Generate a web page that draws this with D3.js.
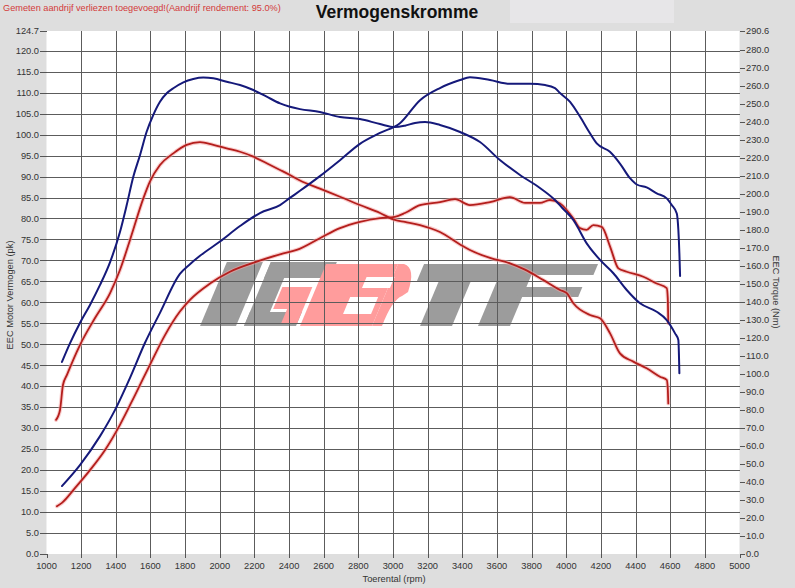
<!DOCTYPE html>
<html><head><meta charset="utf-8">
<script src="https://cdn.jsdelivr.net/npm/d3@7"></script>
<style>body{margin:0;background:#dedede}svg{display:block}</style>
</head><body><svg id="c" width="795" height="588"></svg>
<script>
// ---- data ----
const rpmTicks = d3.range(1000, 5001, 200);
const pkTicks = [...d3.range(0, 121, 5), 124.7];
const nmTicks = [...d3.range(0, 281, 10), 290.6];
const titleText = "Vermogenskromme";
const noteText = "Gemeten aandrijf verliezen toegevoegd!(Aandrijf rendement: 95.0%)";
const xTitle = "Toerental (rpm)";
const yLeftTitle = "EEC Motor Vermogen (pk)";
const yRightTitle = "EEC Torque (Nm)";

// tuned power (pk)
const bluePower = [[1089,16.2],[1193,21.2],[1309,28.1],[1395,34.3],[1482,42.0],[1568,50.3],[1655,57.5],[1770,66.8],[1828,69.1],[1886,71.1],[2001,74.5],[2117,78.2],[2232,81.3],[2348,83.2],[2405,84.9],[2463,86.6],[2578,90.1],[2694,93.9],[2809,97.8],[2925,100.4],[3040,102.7],[3156,108.2],[3271,111.1],[3387,113.0],[3444,113.7],[3560,113.0],[3675,112.1],[3791,112.1],[3878,111.8],[3935,111.1],[3964,109.9],[4022,107.8],[4079,104.3],[4137,100.3],[4176,97.9],[4252,95.9],[4310,93.1],[4368,89.6],[4407,88.1],[4464,87.4],[4522,86.0],[4580,84.8],[4609,83.2],[4638,81.2],[4647,77.3],[4653,71.7],[4657,66.3]];
// tuned torque (Nm)
const blueTorque = [[1089,106.7],[1136,117.2],[1193,128.4],[1251,138.4],[1309,149.5],[1367,162.2],[1424,178.9],[1463,193.9],[1501,209.6],[1540,221.7],[1578,234.6],[1616,243.9],[1655,251.3],[1694,256.0],[1732,258.8],[1790,262.1],[1847,263.9],[1905,264.7],[1963,264.3],[2040,262.4],[2117,260.6],[2194,257.8],[2271,254.1],[2348,250.4],[2405,248.5],[2463,247.2],[2578,245.6],[2694,242.8],[2809,241.7],[2925,238.9],[3011,237.2],[3069,238.0],[3127,239.5],[3185,240.0],[3271,238.4],[3387,234.5],[3502,228.9],[3617,218.9],[3733,210.6],[3848,203.4],[3935,196.7],[3980,192.0],[4041,185.6],[4118,172.6],[4195,163.4],[4272,156.0],[4349,146.7],[4426,139.3],[4522,134.6],[4580,130.0],[4628,122.6],[4647,118.9],[4653,100.4]];
// stock power (pk)
const redPower = [[1060,11.4],[1089,12.2],[1164,15.7],[1251,20.0],[1338,24.8],[1424,30.8],[1511,37.9],[1597,45.1],[1684,52.2],[1770,57.8],[1828,60.6],[1944,64.5],[2059,67.3],[2213,69.7],[2367,71.7],[2444,72.5],[2578,75.3],[2694,77.7],[2809,79.2],[2925,80.1],[3011,80.4],[3069,81.3],[3156,83.2],[3271,83.9],[3358,84.6],[3444,83.2],[3560,83.9],[3675,85.1],[3762,83.7],[3848,83.7],[3906,84.4],[3964,83.6],[4041,80.0],[4079,77.7],[4118,77.3],[4156,78.4],[4205,78.0],[4253,73.3],[4301,68.1],[4349,67.3],[4445,66.1],[4522,64.5],[4580,63.4],[4586,61.0],[4589,55.0]];
// stock torque (Nm)
const redTorque = [[1055,74.5],[1078,80.0],[1095,93.9],[1118,99.5],[1193,116.1],[1280,131.1],[1367,145.0],[1424,157.8],[1482,174.5],[1559,197.6],[1597,206.9],[1655,216.1],[1732,222.6],[1809,227.3],[1886,228.8],[1963,227.3],[2040,225.4],[2117,223.5],[2194,220.8],[2271,217.1],[2348,213.4],[2405,210.6],[2463,207.5],[2578,203.0],[2694,198.5],[2809,193.9],[2925,189.5],[3011,185.6],[3069,184.5],[3156,182.8],[3271,178.9],[3387,172.0],[3444,168.9],[3560,164.5],[3675,161.5],[3762,158.0],[3866,152.3],[3964,146.7],[4003,144.9],[4041,139.3],[4137,132.8],[4195,131.0],[4253,122.6],[4310,111.5],[4387,106.9],[4464,103.2],[4541,98.5],[4580,96.7],[4586,92.0],[4589,83.7]];

// ---- layout ----
const svg = d3.select("#c");
const L = 46.5, R = 739.5, T = 31, B = 554;
const x = d3.scaleLinear().domain([1000, 5000]).range([L, R]);
const yL = d3.scaleLinear().domain([0, 124.7]).range([B, T]);
const yR = d3.scaleLinear().domain([0, 290.6]).range([B, T]);
const font = "Arial, 'Liberation Sans', sans-serif";

svg.append("rect").attr("width", 795).attr("height", 588).attr("fill", "#dedede");
svg.append("rect").attr("x", 510).attr("y", 0).attr("width", 164).attr("height", 23).attr("fill", "#e7e6e8");
svg.append("rect").attr("x", L).attr("y", T).attr("width", R - L).attr("height", B - T).attr("fill", "#fff");

// logo watermark (decorative)
const logo = svg.append("g");
const s = 0.42, yt = 262, yb = 326;
function para(xb0, xb1, y0, y1) {
  const sh = y => (yb - y) * s;
  return [[xb0 + sh(y0), y0], [xb1 + sh(y0), y0], [xb1 + sh(y1), y1], [xb0 + sh(y1), y1]];
}
const gray = "#9c9c9c", pink = "#ff9c9c";
const poly = (pts, c) => logo.append("path").attr("d", "M" + pts.map(p => p.join(",")).join("L") + "Z").attr("fill", c);
poly(para(200, 236, yt, yb), gray);
poly(para(244, 310, yt, yt + 16), gray);
poly(para(244, 264, yt, yb), gray);
poly(para(244, 296, yb - 14, yb), gray);
poly(para(266, 296, 287, 309), pink);
poly(para(280, 296, 309, 323), pink);
poly(para(300, 372, yt + 2, yb), pink);
logo.append("path").attr("d", (() => { const p = para(372, 378, yt + 2, yb); return `M${p[0][0]},${p[0][1]}L${p[1][0]},${p[1][1]}Q${p[1][0]+12},${p[1][1]+4} ${p[1][0]+4},${292}L${p[1][0]-2},${296}Q${p[2][0]+14},${300} ${p[2][0]+4},${p[2][1]}L${p[3][0]},${p[3][1]}Z`; })()).attr("fill", pink);
poly(para(338, 366, 297, 314), "#fff");
poly(para(346, 374, 277, 288), "#fff");
poly(para(398, 488, yt + 2, yt + 19), gray);
poly(para(420, 452, yt + 19, yb), gray);
poly(para(478, 510, yt + 2, yb), gray);
poly(para(505, 572, yt + 2, yt + 13), gray);
poly(para(505, 566, 287, 297), gray);

// grid
const grid = svg.append("g").attr("stroke", "#5c5c5c").attr("stroke-width", 1).attr("shape-rendering", "crispEdges");
grid.selectAll(".v").data(rpmTicks.filter(d => d > 1000 && d < 5000)).join("line")
  .attr("x1", d => Math.round(x(d)) + 0.5).attr("x2", d => Math.round(x(d)) + 0.5).attr("y1", T).attr("y2", B);
grid.selectAll(".h").data(pkTicks.filter(d => d > 0 && d < 121)).join("line")
  .attr("x1", L).attr("x2", R).attr("y1", d => Math.round(yL(d)) + 0.5).attr("y2", d => Math.round(yL(d)) + 0.5);

// ticks
const tk = svg.append("g").attr("stroke", "#555").attr("stroke-width", 1).attr("shape-rendering", "crispEdges");
tk.selectAll(".l").data(pkTicks).join("line").attr("x1", 40).attr("x2", L)
  .attr("y1", d => Math.round(yL(d)) + 0.5).attr("y2", d => Math.round(yL(d)) + 0.5);
tk.selectAll(".r").data(nmTicks).join("line").attr("x1", R).attr("x2", 745)
  .attr("y1", d => Math.round(yR(d)) + 0.5).attr("y2", d => Math.round(yR(d)) + 0.5);
tk.selectAll(".b").data(rpmTicks).join("line").attr("x1", d => Math.round(x(d)) + 0.5).attr("x2", d => Math.round(x(d)) + 0.5)
  .attr("y1", B).attr("y2", B + 4);

const lab = svg.append("g").attr("font-family", font).attr("font-size", 9.3).attr("fill", "#333");
lab.selectAll(".lt").data(pkTicks).join("text").attr("x", 39).attr("y", d => yL(d)).attr("dy", "0.35em")
  .attr("text-anchor", "end").text(d => d.toFixed(1));
lab.selectAll(".rt").data(nmTicks).join("text").attr("x", 746).attr("y", d => yR(d)).attr("dy", "0.35em")
  .attr("text-anchor", "start").text(d => d.toFixed(1));
lab.selectAll(".bt").data(rpmTicks).join("text").attr("x", d => x(d)).attr("y", 569)
  .attr("text-anchor", "middle").text(d => d);

lab.append("text").attr("x", 394).attr("y", 582).attr("text-anchor", "middle").text(xTitle);
lab.append("text").attr("transform", "translate(13,295) rotate(-90)").attr("text-anchor", "middle").text(yLeftTitle);
lab.append("text").attr("transform", "translate(773,292) rotate(90)").attr("text-anchor", "middle").text(yRightTitle);

svg.append("text").attr("x", 397).attr("y", 18).attr("text-anchor", "middle").attr("font-family", font)
  .attr("font-weight", "bold").attr("font-size", 17.5).attr("fill", "#111").text(titleText);
svg.append("text").attr("x", 3).attr("y", 11).attr("font-family", font).attr("font-size", 9.2)
  .attr("fill", "#d33a3a").text(noteText);

// curves
const lineL = d3.line().x(d => x(d[0])).y(d => yL(d[1])).curve(d3.curveMonotoneX);
const lineR = d3.line().x(d => x(d[0])).y(d => yR(d[1])).curve(d3.curveMonotoneX);
const curves = svg.append("g").attr("fill", "none").attr("stroke-linejoin", "round").attr("stroke-linecap", "round");
[[redPower, lineL], [redTorque, lineR]].forEach(([d, f]) => {
  curves.append("path").attr("d", f(d)).attr("stroke", "#f4a4a4").attr("stroke-width", 4).attr("opacity", 0.55);
});
[[redPower, lineL], [redTorque, lineR]].forEach(([d, f]) => {
  curves.append("path").attr("d", f(d)).attr("stroke", "#b41e1c").attr("stroke-width", 1.8);
});
[[bluePower, lineL], [blueTorque, lineR]].forEach(([d, f]) => {
  curves.append("path").attr("d", f(d)).attr("stroke", "#15197a").attr("stroke-width", 2);
});
</script></body></html>
